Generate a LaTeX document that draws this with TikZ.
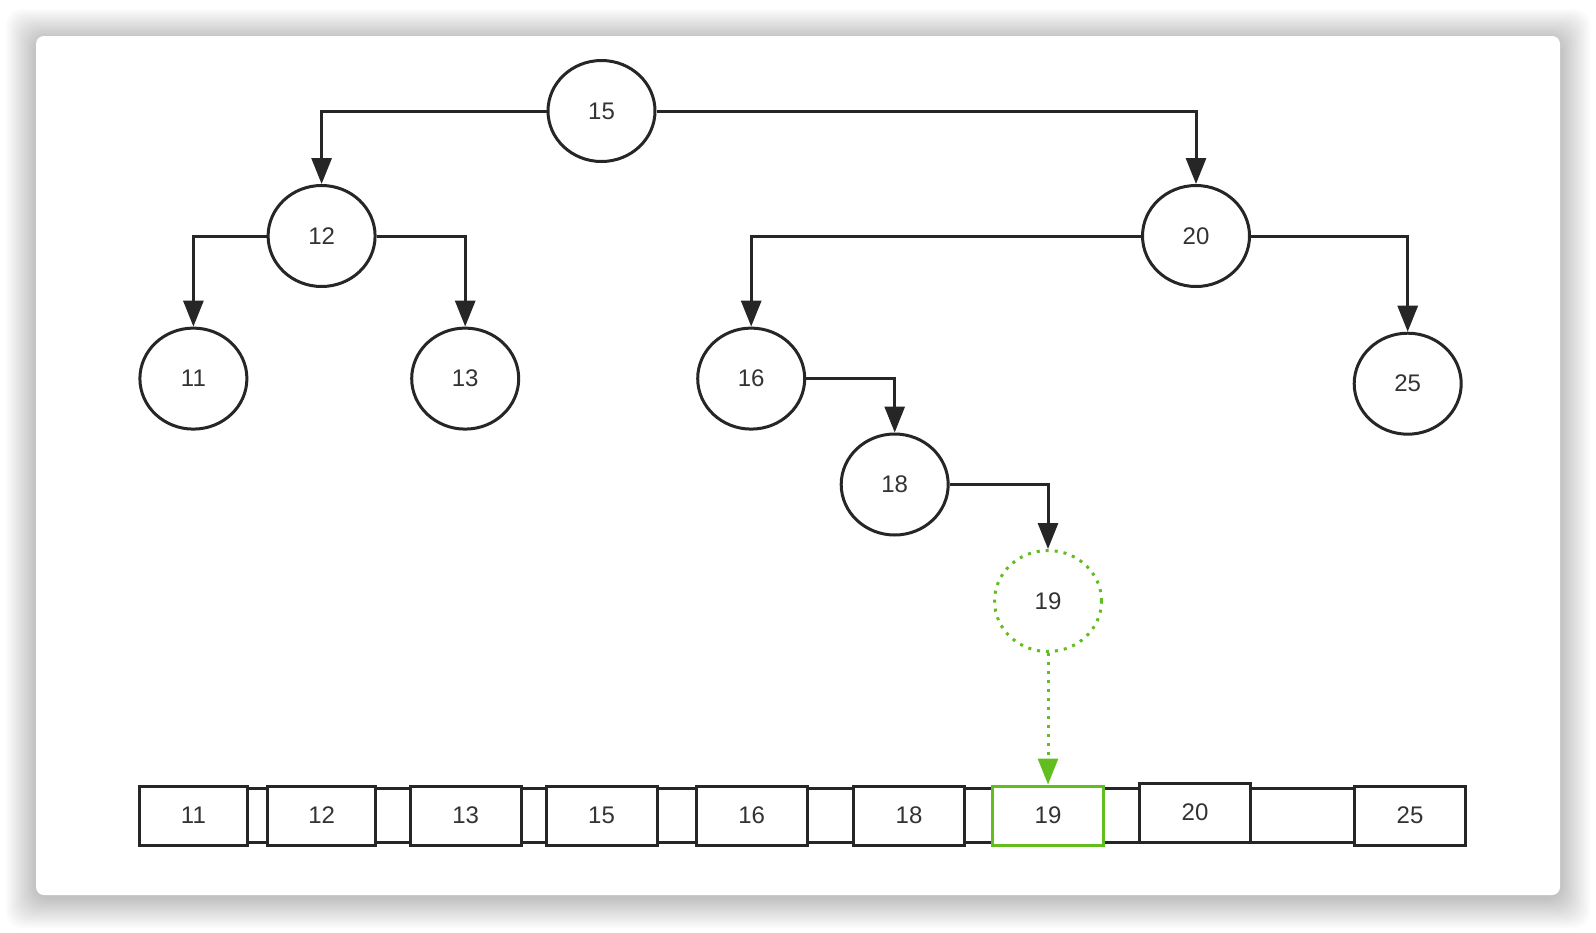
\documentclass[tikz,border=0pt]{standalone}
\usepackage{fontspec}
\setmainfont{Liberation Sans}
\usetikzlibrary{shapes.geometric,arrows.meta}
\definecolor{lc}{HTML}{262626}
\definecolor{tc}{HTML}{333333}
\definecolor{gr}{RGB}{98,190,30}
\tikzset{
  tn/.style={ellipse, draw=lc, line width=1.5pt, minimum width=53.5pt, minimum height=50.5pt, inner sep=0pt, fill=white, font=\fontsize{12}{14}\selectfont, text=tc},
  ab/.style={rectangle, draw=lc, line width=1.5pt, fill=white, minimum width=55.5pt, minimum height=29.5pt, inner sep=0pt, font=\fontsize{12}{14}\selectfont, text=tc},
  stripbox/.style={rectangle, draw=lc, line width=1.5pt, fill=white, minimum height=27pt, inner sep=0pt},
  arr/.style={-{Triangle[length=13pt,width=10pt]}, line width=1.5pt, draw=lc},
  garr/.style={-{Triangle[length=13pt,width=10pt]}, line width=1.5pt, draw=gr, dash pattern=on 1.5pt off 3pt},
}
\begin{document}
\begin{tikzpicture}[x=0.5pt,y=-0.5pt]
\useasboundingbox (0,0) rectangle (1596,932);
\fill[white] (0,0) rectangle (1596,932);
% shadow
\foreach \k in {1,...,15}{
  \fill[black,opacity=0.014,rounded corners=8pt] (36-2*\k,36-2*\k+3) rectangle (1560+2*\k,895+2*\k+3);
}
% card
\fill[white,rounded corners=4pt] (36,36) rectangle (1560,895);

% tree nodes
\node[tn] (n15) at (601.5,111) {15};
\node[tn] (n12) at (321.6,236) {12};
\node[tn] (n20) at (1196,236) {20};
\node[tn] (n11) at (193.4,378.6) {11};
\node[tn] (n13) at (465.2,378.6) {13};
\node[tn] (n16) at (751.2,378.6) {16};
\node[tn] (n25) at (1407.7,383.7) {25};
\node[tn] (n18) at (894.7,484.5) {18};
\node[tn, draw=gr, dash pattern=on 1.5pt off 3pt] (n19) at (1048,601) {19};

% tree edges
\draw[arr] (n15.west) -| (n12.north);
\draw[arr] (n15.east) -| (n20.north);
\draw[arr] (n12.west) -| (n11.north);
\draw[arr] (n12.east) -| (n13.north);
\draw[arr] (n20.west) -| (n16.north);
\draw[arr] (n20.east) -| (n25.north);
\draw[arr] (n16.east) -| (n18.north);
\draw[arr] (n18.east) -| (n19.north);

% array
\node[stripbox, minimum width=662.5pt] (strip) at (802.5,815) {};
\node[ab, minimum width=54pt] (a11) at (193.4,815.5) {11};
\node[ab, minimum width=54pt] (a12) at (321.6,815.5) {12};
\node[ab] (a13) at (465.7,815.5) {13};
\node[ab] (a15) at (601.5,815.5) {15};
\node[ab] (a16) at (751.7,815.5) {16};
\node[ab] (a18) at (909,815.5) {18};
\node[ab, draw=gr] (a19) at (1048,815.5) {19};
\node[ab] (a20) at (1195,812.5) {20};
\node[ab] (a25) at (1410,815.5) {25};

\draw[garr] (n19.south) -- (a19.north);
\end{tikzpicture}
\end{document}
